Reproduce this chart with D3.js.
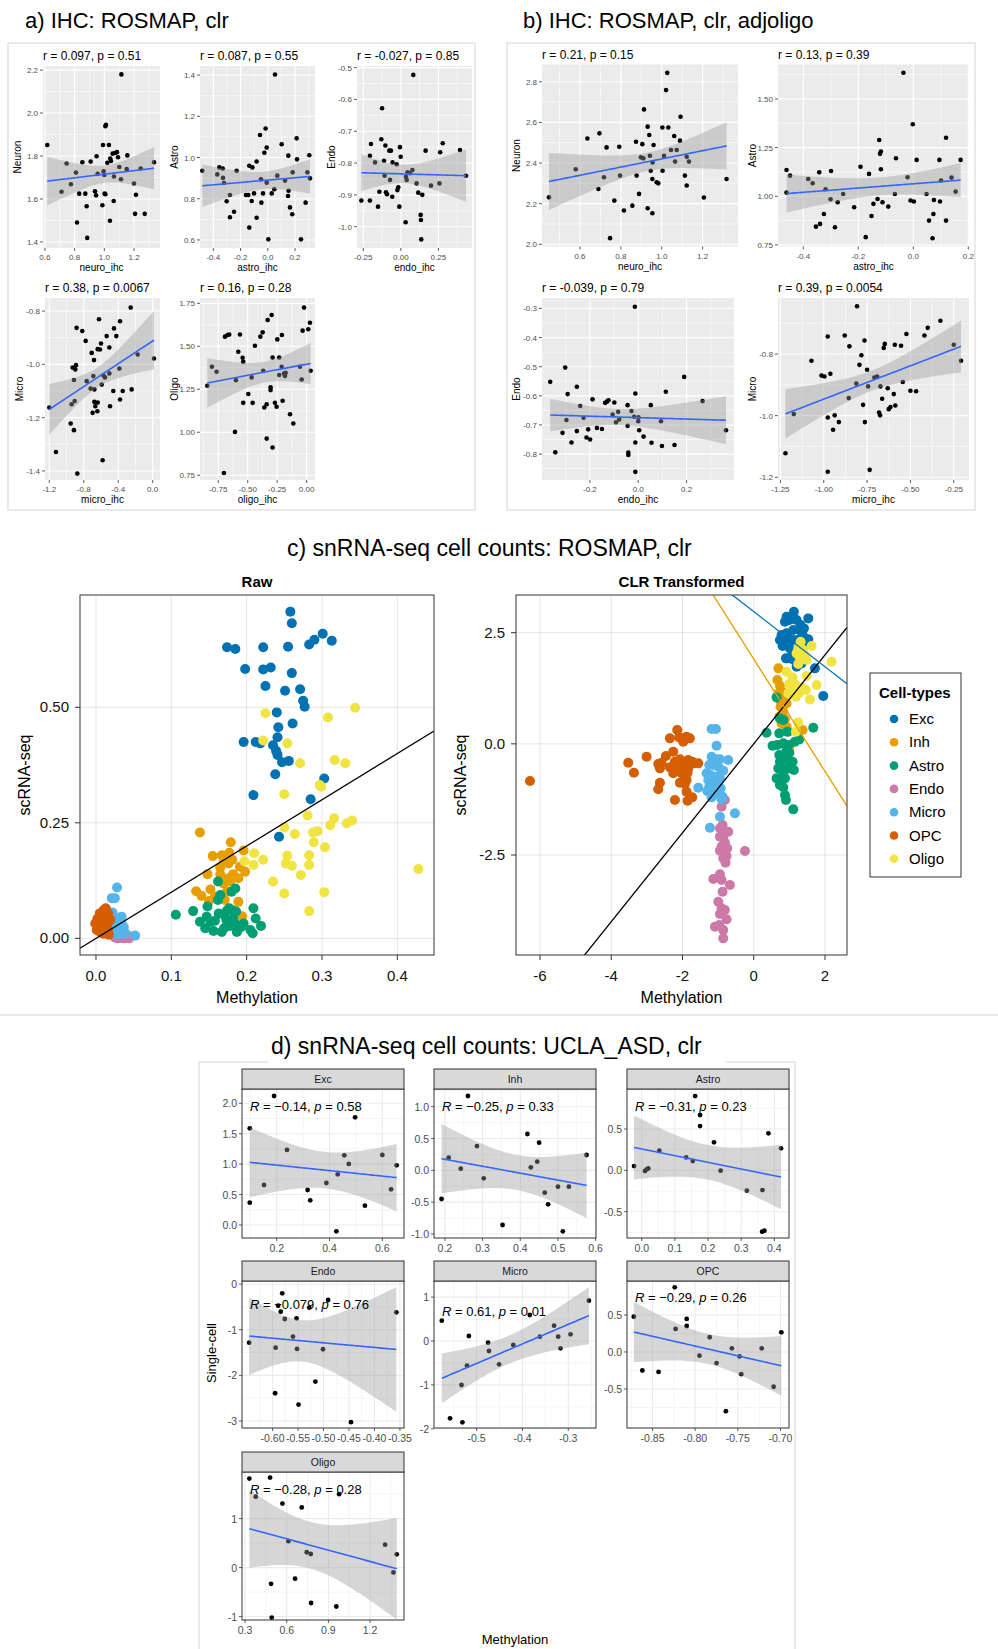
<!DOCTYPE html>
<html>
<head>
<meta charset="utf-8">
<script src="https://cdn.jsdelivr.net/npm/d3@7"></script>
<style>
body { margin: 0; background: #fff; }
</style>
</head>
<body>
<div id="chart"></div>
<script>
// ---------------- data ----------------
// a) IHC ROSMAP clr  [ihc, methylation]
var aNeuron = [[0.616,1.851],[0.712,1.634],[0.746,1.765],[0.775,1.669],[0.809,1.723],[0.816,1.491],[0.831,1.625],[0.852,1.771],[0.872,1.625],[0.881,1.566],[0.885,1.419],[0.908,1.774],[0.937,1.636],[0.944,1.617],[0.948,1.799],[0.955,1.717],[0.987,1.571],[0.991,1.851],[0.995,1.729],[1.000,1.712],[1.002,1.625],[1.007,1.622],[1.007,1.939],[1.011,1.945],[1.020,1.769],[1.031,1.851],[1.038,1.499],[1.040,1.788],[1.045,1.777],[1.056,1.811],[1.063,1.591],[1.065,1.705],[1.072,1.814],[1.085,1.818],[1.092,1.794],[1.101,1.749],[1.115,2.180],[1.112,1.692],[1.151,1.739],[1.155,1.803],[1.200,1.672],[1.213,1.620],[1.207,1.531],[1.245,1.742],[1.272,1.531],[1.335,1.771]];
var aAstro = [[-0.481,0.936],[-0.371,0.918],[-0.356,0.952],[-0.331,0.947],[-0.329,0.901],[-0.322,0.876],[-0.302,0.788],[-0.278,0.818],[-0.278,0.710],[-0.248,0.737],[-0.229,0.936],[-0.160,0.818],[-0.143,0.818],[-0.136,0.660],[-0.136,0.960],[-0.113,0.952],[-0.118,0.789],[-0.101,0.826],[-0.082,0.708],[-0.082,0.981],[-0.057,1.109],[-0.050,0.894],[-0.047,0.781],[-0.035,0.826],[-0.025,1.023],[-0.016,1.141],[-0.008,1.048],[0.004,0.603],[-0.008,0.878],[0.029,0.826],[0.048,0.846],[0.053,1.403],[0.070,0.912],[0.102,1.064],[0.127,0.888],[0.149,0.813],[0.153,0.839],[0.151,1.009],[0.163,0.758],[0.180,0.725],[0.183,0.928],[0.212,1.093],[0.215,0.991],[0.244,0.603],[0.278,0.781],[0.291,0.928],[0.305,1.011],[0.310,0.899]];
var aEndo = [[-0.263,-0.918],[-0.206,-0.918],[-0.206,-0.777],[-0.199,-0.740],[-0.172,-0.798],[-0.152,-0.937],[-0.143,-0.890],[-0.130,-0.725],[-0.125,-0.628],[-0.112,-0.793],[-0.108,-0.840],[-0.103,-0.745],[-0.099,-0.892],[-0.092,-0.898],[-0.077,-0.761],[-0.072,-0.853],[-0.066,-0.761],[-0.057,-0.906],[-0.055,-0.798],[-0.028,-0.804],[-0.023,-0.885],[-0.017,-0.876],[-0.010,-0.937],[-0.006,-0.750],[-0.001,-0.780],[0.032,-0.986],[0.034,-0.843],[0.039,-0.853],[0.045,-0.829],[0.061,-0.832],[0.077,-0.822],[0.083,-0.523],[0.105,-0.864],[0.116,-0.893],[0.132,-0.963],[0.134,-0.979],[0.136,-1.040],[0.143,-0.900],[0.165,-0.761],[0.201,-0.871],[0.257,-0.864],[0.262,-0.766],[0.279,-0.738],[0.394,-0.759],[0.434,-0.840]];
var aMicro = [[-1.200,-1.162],[-1.123,-1.329],[-0.952,-1.222],[-0.941,-1.150],[-0.929,-1.012],[-0.914,-1.247],[-0.914,-1.059],[-0.906,-1.138],[-0.898,-1.019],[-0.890,-1.003],[-0.883,-0.863],[-0.875,-1.410],[-0.817,-0.875],[-0.778,-0.912],[-0.766,-1.063],[-0.720,-1.091],[-0.708,-0.957],[-0.697,-1.182],[-0.689,-1.044],[-0.681,-0.984],[-0.677,-1.094],[-0.677,-1.141],[-0.666,-1.157],[-0.642,-1.176],[-0.638,-1.143],[-0.638,-0.943],[-0.623,-0.831],[-0.612,-0.944],[-0.600,-0.922],[-0.592,-1.076],[-0.581,-1.360],[-0.573,-1.041],[-0.554,-1.049],[-0.534,-0.894],[-0.503,-0.937],[-0.503,-1.034],[-0.495,-1.157],[-0.457,-1.100],[-0.449,-0.865],[-0.422,-0.894],[-0.387,-1.016],[-0.379,-0.838],[-0.379,-1.132],[-0.348,-1.100],[-0.255,-0.787],[-0.244,-1.094],[-0.174,-0.963],[0.015,-0.978]];
var aOligo = [[-0.843,1.270],[-0.804,1.381],[-0.764,1.352],[-0.693,1.556],[-0.671,1.566],[-0.657,1.569],[-0.702,0.763],[-0.608,1.002],[-0.600,1.303],[-0.580,1.468],[-0.566,1.569],[-0.543,1.433],[-0.538,1.410],[-0.538,1.171],[-0.495,1.222],[-0.467,1.319],[-0.458,1.171],[-0.439,1.503],[-0.393,1.556],[-0.373,1.581],[-0.368,1.358],[-0.359,1.144],[-0.339,0.963],[-0.339,1.163],[-0.331,1.653],[-0.306,1.261],[-0.306,1.245],[-0.297,1.682],[-0.289,0.911],[-0.289,1.435],[-0.269,1.171],[-0.255,1.148],[-0.249,1.540],[-0.233,1.435],[-0.233,1.333],[-0.212,1.381],[-0.210,1.566],[-0.204,1.183],[-0.192,1.342],[-0.184,1.327],[-0.178,1.346],[-0.141,1.105],[-0.113,1.051],[-0.056,1.381],[-0.042,1.307],[-0.034,1.591],[-0.022,1.725],[0.014,1.599],[0.028,1.637],[0.034,1.358]];

// b) IHC ROSMAP clr adjoligo
var bNeuron = [[0.448,2.231],[0.579,2.369],[0.636,2.521],[0.690,2.272],[0.695,2.546],[0.717,2.330],[0.730,2.477],[0.747,2.030],[0.768,2.215],[0.792,2.480],[0.796,2.338],[0.815,2.166],[0.856,2.190],[0.874,2.505],[0.877,2.338],[0.889,2.248],[0.898,2.428],[0.905,2.493],[0.910,2.423],[0.913,2.664],[0.931,2.579],[0.931,2.177],[0.939,2.538],[0.942,2.436],[0.946,2.362],[0.954,2.321],[0.954,2.153],[0.955,2.403],[0.960,2.489],[0.975,2.305],[0.983,2.300],[1.003,2.575],[1.004,2.362],[1.011,2.435],[1.021,2.759],[1.027,2.844],[1.032,2.575],[1.045,2.464],[1.061,2.533],[1.065,2.407],[1.073,2.464],[1.089,2.510],[1.092,2.628],[1.113,2.338],[1.122,2.289],[1.122,2.431],[1.133,2.407],[1.206,2.230],[1.317,2.321]];
var bAstro = [[-0.461,1.135],[-0.461,1.019],[-0.448,1.106],[-0.382,1.089],[-0.366,1.067],[-0.354,0.844],[-0.342,1.123],[-0.339,0.858],[-0.325,0.909],[-0.319,1.036],[-0.301,0.985],[-0.299,1.130],[-0.285,0.841],[-0.275,0.969],[-0.255,1.012],[-0.215,0.944],[-0.192,1.152],[-0.173,0.790],[-0.161,1.115],[-0.152,0.899],[-0.145,0.961],[-0.130,0.986],[-0.124,1.289],[-0.121,1.218],[-0.118,1.230],[-0.118,1.139],[-0.112,0.969],[-0.091,0.947],[-0.067,1.012],[-0.063,1.195],[-0.036,1.635],[-0.021,1.098],[-0.010,0.978],[-0.002,1.370],[0.002,0.973],[0.012,1.187],[0.048,1.012],[0.057,0.875],[0.073,0.909],[0.075,0.981],[0.070,0.784],[0.095,1.187],[0.097,0.973],[0.101,1.081],[0.119,1.301],[0.119,0.875],[0.139,1.096],[0.154,1.024],[0.172,1.187]];
var bEndo = [[-0.364,-0.552],[-0.343,-0.794],[-0.302,-0.503],[-0.297,-0.683],[-0.292,-0.594],[-0.313,-0.727],[-0.276,-0.760],[-0.254,-0.569],[-0.254,-0.721],[-0.240,-0.635],[-0.226,-0.675],[-0.214,-0.743],[-0.207,-0.715],[-0.199,-0.750],[-0.189,-0.612],[-0.171,-0.710],[-0.150,-0.714],[-0.137,-0.624],[-0.130,-0.620],[-0.123,-0.615],[-0.106,-0.664],[-0.099,-0.623],[-0.092,-0.691],[-0.083,-0.655],[-0.079,-0.681],[-0.044,-0.632],[-0.044,-0.703],[-0.041,-0.795],[-0.041,-0.803],[-0.028,-0.652],[-0.017,-0.672],[-0.012,-0.592],[-0.012,-0.760],[-0.012,-0.861],[-0.014,-0.294],[0.000,-0.687],[0.001,-0.674],[0.004,-0.718],[0.022,-0.740],[0.052,-0.632],[0.055,-0.761],[0.094,-0.687],[0.098,-0.772],[0.114,-0.586],[0.150,-0.769],[0.190,-0.535],[0.266,-0.618],[0.363,-0.718]];
var bMicro = [[-1.221,-1.122],[-1.173,-0.995],[-1.071,-0.822],[-1.013,-0.870],[-0.996,-0.873],[-0.977,-0.743],[-0.977,-1.006],[-0.977,-1.182],[-0.962,-0.864],[-0.946,-1.046],[-0.937,-0.999],[-0.913,-1.021],[-0.879,-0.740],[-0.856,-0.943],[-0.852,-0.775],[-0.812,-0.896],[-0.808,-0.645],[-0.794,-0.835],[-0.783,-0.804],[-0.773,-0.965],[-0.765,-0.756],[-0.763,-1.021],[-0.750,-0.851],[-0.744,-0.905],[-0.735,-1.176],[-0.708,-0.876],[-0.692,-0.873],[-0.681,-0.990],[-0.675,-0.999],[-0.673,-0.905],[-0.663,-0.945],[-0.654,-0.780],[-0.648,-0.767],[-0.631,-0.911],[-0.625,-0.979],[-0.615,-0.972],[-0.596,-0.930],[-0.590,-0.770],[-0.587,-0.967],[-0.554,-0.773],[-0.544,-0.891],[-0.523,-0.735],[-0.500,-0.919],[-0.467,-0.921],[-0.419,-0.740],[-0.400,-0.715],[-0.327,-0.692],[-0.250,-0.770],[-0.208,-0.822]];

// c) snRNA-seq ROSMAP  [methylation, scRNA-seq]
var cellTypes = ["Exc","Inh","Astro","Endo","Micro","OPC","Oligo"];
var cellColors = ["#0072B2","#E69F00","#009E73","#CC79A7","#56B4E9","#D55E00","#F0E442"];
var rawExc = [[0.258,0.707],[0.260,0.682],[0.301,0.659],[0.290,0.646],[0.283,0.636],[0.313,0.644],[0.174,0.630],[0.185,0.626],[0.222,0.630],[0.255,0.631],[0.198,0.583],[0.222,0.582],[0.232,0.586],[0.260,0.574],[0.225,0.546],[0.251,0.536],[0.271,0.539],[0.275,0.514],[0.277,0.501],[0.240,0.489],[0.261,0.465],[0.242,0.457],[0.241,0.435],[0.196,0.425],[0.212,0.425],[0.218,0.422],[0.235,0.418],[0.239,0.406],[0.241,0.397],[0.247,0.381],[0.256,0.384],[0.238,0.355],[0.303,0.346],[0.209,0.310],[0.285,0.301],[0.243,0.220]];
var rawInh = [[0.138,0.229],[0.179,0.208],[0.155,0.178],[0.167,0.180],[0.177,0.185],[0.196,0.190],[0.170,0.166],[0.176,0.162],[0.181,0.170],[0.191,0.155],[0.148,0.139],[0.165,0.139],[0.182,0.139],[0.198,0.144],[0.176,0.130],[0.189,0.130],[0.169,0.119],[0.178,0.123],[0.152,0.106],[0.133,0.102],[0.140,0.092],[0.158,0.090],[0.174,0.102],[0.150,0.081],[0.171,0.083],[0.189,0.079],[0.194,0.048],[0.165,0.154]];
var rawAstro = [[0.106,0.051],[0.129,0.059],[0.138,0.036],[0.145,0.022],[0.148,0.069],[0.152,0.036],[0.158,0.038],[0.162,0.123],[0.165,0.094],[0.162,0.083],[0.156,0.016],[0.163,0.054],[0.167,0.014],[0.170,0.051],[0.173,0.040],[0.174,0.061],[0.177,0.065],[0.178,0.027],[0.180,0.101],[0.181,0.061],[0.182,0.043],[0.185,0.108],[0.185,0.032],[0.186,0.058],[0.187,0.014],[0.190,0.022],[0.193,0.025],[0.196,0.032],[0.205,0.018],[0.208,0.011],[0.209,0.065],[0.212,0.043],[0.219,0.027],[0.147,0.047],[0.176,0.036],[0.170,0.022]];
var rawEndo = [[0.025,0.002],[0.029,0.000],[0.032,0.004],[0.035,0.001],[0.037,0.000],[0.040,0.003],[0.043,0.002],[0.046,0.004],[0.038,0.008],[0.033,0.006],[0.028,0.005],[0.041,0.007],[0.044,0.000],[0.030,0.001],[0.036,0.003],[0.027,0.008]];
var rawMicro = [[0.028,0.110],[0.021,0.087],[0.025,0.087],[0.052,0.006],[0.022,0.056],[0.025,0.040],[0.030,0.043],[0.034,0.032],[0.037,0.024],[0.028,0.022],[0.023,0.018],[0.032,0.014],[0.039,0.011],[0.027,0.009],[0.019,0.029],[0.034,0.047],[0.030,0.030],[0.026,0.025],[0.036,0.018],[0.031,0.008],[0.021,0.012],[0.033,0.021],[0.029,0.036]];
var rawOPC = [[-0.001,0.032],[0.002,0.043],[0.005,0.054],[0.010,0.061],[0.013,0.065],[0.008,0.025],[0.012,0.014],[0.016,0.018],[0.004,0.022],[0.015,0.029],[0.019,0.040],[0.009,0.036],[0.001,0.018],[0.014,0.047],[0.011,0.054],[0.005,0.040],[0.012,0.032],[0.016,0.054],[0.008,0.048],[0.003,0.028],[0.017,0.008],[0.010,0.010],[0.006,0.013]];
var rawOligo = [[0.344,0.499],[0.225,0.487],[0.308,0.478],[0.222,0.428],[0.254,0.422],[0.271,0.379],[0.317,0.386],[0.331,0.379],[0.297,0.332],[0.299,0.328],[0.250,0.312],[0.281,0.266],[0.316,0.260],[0.311,0.245],[0.333,0.249],[0.340,0.255],[0.250,0.240],[0.264,0.226],[0.288,0.229],[0.294,0.232],[0.289,0.208],[0.304,0.197],[0.210,0.184],[0.254,0.179],[0.283,0.180],[0.197,0.167],[0.222,0.170],[0.252,0.162],[0.260,0.157],[0.209,0.159],[0.283,0.159],[0.272,0.137],[0.235,0.123],[0.250,0.097],[0.303,0.100],[0.283,0.059],[0.428,0.150]];

var clrExc = [[1.127,2.972],[0.922,2.860],[0.876,2.747],[1.000,2.785],[1.203,2.785],[1.531,2.822],[1.316,2.672],[1.409,2.597],[1.109,2.560],[0.782,2.448],[0.735,2.335],[0.829,2.298],[0.969,2.373],[1.091,2.335],[1.222,2.335],[1.372,2.448],[1.531,2.350],[1.437,2.260],[0.810,2.200],[1.016,2.148],[1.109,2.073],[0.969,1.923],[1.127,1.885],[1.203,1.735],[1.344,1.810],[1.718,1.698],[1.952,1.076],[0.922,2.485],[1.278,2.560],[0.904,1.923]];
var clrInh = [[0.692,1.698],[0.664,1.435],[0.737,1.300],[0.782,1.173],[0.737,0.985],[0.829,1.045],[0.922,0.910],[0.754,0.835],[0.829,0.723],[0.717,0.610],[0.876,0.551],[0.782,0.461],[0.922,0.386],[0.969,0.273],[1.372,0.311],[1.000,-0.064],[0.876,1.135],[0.692,1.135]];
var clrAstro = [[0.641,1.045],[0.361,0.251],[0.529,-0.041],[0.735,0.573],[0.829,0.536],[0.717,0.236],[0.941,0.273],[1.156,0.049],[1.278,0.101],[1.671,0.363],[0.660,-0.026],[0.829,0.011],[0.969,-0.026],[0.717,-0.251],[0.829,-0.326],[0.735,-0.401],[0.922,-0.364],[1.091,-0.401],[1.127,-0.588],[0.689,-0.551],[0.829,-0.573],[0.969,-0.551],[0.829,-0.663],[0.641,-0.776],[0.754,-0.813],[0.876,-0.776],[0.735,-0.926],[0.829,-0.978],[0.876,-1.151],[0.904,-1.263],[1.109,-1.473],[1.000,-0.198],[0.922,-0.138]];
var clrEndo = [[-0.810,-1.263],[-0.903,-1.413],[-0.875,-1.825],[-0.949,-1.900],[-0.716,-1.975],[-0.856,-2.087],[-0.810,-2.222],[-0.903,-2.312],[-0.810,-2.387],[-0.949,-2.402],[-0.763,-2.522],[-0.856,-2.575],[-0.791,-2.672],[-0.247,-2.410],[-0.949,-2.935],[-1.136,-3.040],[-0.903,-3.062],[-0.669,-3.175],[-0.875,-3.325],[-0.996,-3.550],[-0.903,-3.700],[-0.810,-3.737],[-0.949,-3.827],[-0.763,-3.947],[-1.090,-4.112],[-0.968,-4.075],[-0.856,-4.187],[-0.856,-4.375],[-0.744,-2.350],[-0.949,-2.087]];
var clrMicro = [[-1.183,0.333],[-1.062,0.333],[-1.043,-0.041],[-1.183,-0.289],[-1.043,-0.348],[-0.949,-0.348],[-0.716,-0.364],[-1.249,-0.476],[-1.137,-0.476],[-0.996,-0.514],[-0.903,-0.603],[-0.856,-0.603],[-1.324,-0.663],[-1.212,-0.701],[-1.090,-0.738],[-0.949,-0.776],[-1.277,-0.813],[-1.155,-0.851],[-1.024,-0.873],[-1.249,-0.963],[-1.137,-0.963],[-0.930,-1.001],[-1.558,-0.986],[-1.305,-1.061],[-1.043,-1.113],[-0.874,-1.188],[-1.183,-1.203],[-0.528,-1.563],[-0.949,-1.638],[-1.230,-1.885],[-0.903,-1.248]];
var clrOPC = [[-6.282,-0.836],[-3.523,-0.424],[-3.364,-0.649],[-3.008,-0.289],[-2.681,-0.454],[-2.466,-0.274],[-2.354,0.124],[-2.260,-0.176],[-2.213,-0.401],[-2.148,0.311],[-2.092,0.146],[-2.073,-0.349],[-2.073,-0.551],[-1.980,0.049],[-1.886,0.161],[-1.793,0.124],[-1.886,-0.439],[-1.727,-0.401],[-1.558,-0.439],[-1.671,-0.439],[-1.840,-0.551],[-2.634,-0.551],[-2.587,-0.424],[-2.354,-0.529],[-2.260,-0.663],[-2.026,-0.663],[-1.858,-0.649],[-1.886,-0.813],[-2.073,-0.873],[-1.933,-0.903],[-2.634,-0.873],[-2.681,-1.023],[-1.886,-1.076],[-2.213,-1.263],[-1.858,-1.278],[-1.727,-1.203],[-1.840,-0.364],[-2.120,-0.439]];
var clrOligo = [[1.316,2.298],[1.250,2.148],[1.391,2.110],[1.203,2.035],[1.437,1.998],[1.297,1.923],[1.484,1.885],[1.625,2.200],[2.186,1.848],[1.250,1.795],[0.922,1.623],[1.091,1.495],[1.484,1.525],[1.000,1.345],[1.184,1.323],[1.344,1.270],[1.109,1.210],[0.969,1.135],[1.278,1.150],[1.466,1.210],[1.765,1.323],[1.578,1.000],[1.184,1.060],[1.250,0.483],[1.184,0.273],[1.091,1.098]];
// fitted lines in the CLR panel: [intercept, slope]
var clrIdentity = [0, 1];
var clrExcLine = [2.975, -0.62];
var clrInhLine = [1.908, -1.263];

// d) snRNA-seq UCLA_ASD  [methylation, single-cell]
var dExc = [[0.098,1.589],[0.098,0.367],[0.152,0.657],[0.190,2.120],[0.239,1.233],[0.317,0.575],[0.327,0.405],[0.388,0.690],[0.431,0.833],[0.426,-0.104],[0.456,1.145],[0.473,1.003],[0.497,1.770],[0.534,0.318],[0.600,1.151],[0.633,0.586],[0.654,0.981]];
var dInh = [[0.191,-0.450],[0.210,0.199],[0.242,0.026],[0.261,1.168],[0.285,0.382],[0.303,-0.126],[0.353,-0.859],[0.419,0.571],[0.428,0.047],[0.445,0.136],[0.450,0.435],[0.465,-0.351],[0.474,-0.534],[0.500,-0.257],[0.513,-0.958],[0.529,-0.257],[0.576,0.241]];
var dAstro = [[-0.023,0.052],[0.010,-0.008],[0.015,0.012],[0.020,0.024],[0.053,0.238],[0.134,0.157],[0.154,0.113],[0.161,0.899],[0.176,0.669],[0.176,0.536],[0.218,0.339],[0.238,-0.004],[0.317,-0.246],[0.364,-0.238],[0.363,-0.742],[0.370,-0.730],[0.382,0.448],[0.420,0.266]];
var dEndo = [[-0.581,-0.204],[-0.589,-0.474],[-0.584,-0.605],[-0.576,-0.766],[-0.553,-0.752],[-0.528,-0.518],[-0.491,-0.350],[-0.357,-0.619],[-0.560,-1.152],[-0.646,-1.284],[-0.594,-1.393],[-0.552,-1.422],[-0.501,-1.429],[-0.516,-2.137],[-0.595,-2.392],[-0.549,-2.641],[-0.446,-3.026]];
var dMicro = [[-0.576,0.462],[-0.517,0.114],[-0.475,-0.038],[-0.384,0.592],[-0.331,0.349],[-0.255,0.918],[-0.362,0.099],[-0.322,0.099],[-0.295,0.152],[-0.317,-0.167],[-0.420,-0.091],[-0.473,-0.228],[-0.451,-0.531],[-0.521,-0.562],[-0.533,-1.002],[-0.558,-1.761],[-0.531,-1.852]];
var dOPC = [[-0.872,0.477],[-0.823,0.311],[-0.824,0.874],[-0.810,0.446],[-0.810,0.351],[-0.783,0.199],[-0.757,0.050],[-0.699,0.266],[-0.862,-0.250],[-0.843,-0.270],[-0.795,-0.050],[-0.775,-0.150],[-0.764,-0.800],[-0.746,-0.300],[-0.722,0.050],[-0.708,-0.470],[-0.748,-0.060]];
var dOligo = [[0.331,1.817],[0.480,1.838],[0.377,1.447],[0.569,1.306],[0.708,1.228],[0.977,1.498],[0.612,0.540],[0.744,0.313],[0.773,0.277],[0.487,-0.332],[0.660,-0.226],[0.775,-0.723],[0.957,-0.794],[0.492,-1.021],[1.308,0.468],[1.392,0.270],[1.368,-0.098]];
var dR = ["\u22120.14","\u22120.25","\u22120.31","\u22120.079","0.61","\u22120.29","\u22120.28"];
var dP = ["0.58","0.33","0.23","0.76","0.01","0.26","0.28"];

// ---------------- drawing ----------------
var W = 998, H = 1649;
var svg = d3.select("#chart").append("svg")
    .attr("width", W).attr("height", H)
    .style("font-family", "'Liberation Sans', Arial, Helvetica, sans-serif");
svg.append("rect").attr("width", W).attr("height", H).attr("fill", "#fff");

var loc = d3.formatLocale({decimal: ".", thousands: ",", grouping: [3], currency: ["", ""], minus: "-"});
var clipCount = 0;

function clipRect(x0, y0, x1, y1) {
    var id = "clip" + (clipCount++);
    svg.append("clipPath").attr("id", id).append("rect")
        .attr("x", x0).attr("y", y0).attr("width", x1 - x0).attr("height", y1 - y0);
    return "url(#" + id + ")";
}

// 97.5% t quantile (Cornish-Fisher expansion)
function qt975(df) {
    var z = 1.959964;
    var g1 = (Math.pow(z, 3) + z) / 4;
    var g2 = (5 * Math.pow(z, 5) + 16 * Math.pow(z, 3) + 3 * z) / 96;
    var g3 = (3 * Math.pow(z, 7) + 19 * Math.pow(z, 5) + 17 * Math.pow(z, 3) - 15 * z) / 384;
    return z + g1 / df + g2 / (df * df) + g3 / (df * df * df);
}

// linear model with 95% confidence band, like geom_smooth(method = "lm")
function lmFit(pts) {
    var n = pts.length;
    var mx = d3.mean(pts, function(d) { return d[0]; });
    var my = d3.mean(pts, function(d) { return d[1]; });
    var sxx = d3.sum(pts, function(d) { return (d[0] - mx) * (d[0] - mx); });
    var sxy = d3.sum(pts, function(d) { return (d[0] - mx) * (d[1] - my); });
    var b = sxy / sxx, a = my - b * mx;
    var s = Math.sqrt(d3.sum(pts, function(d) { var e = d[1] - a - b * d[0]; return e * e; }) / (n - 2));
    var t = qt975(n - 2);
    var ext = d3.extent(pts, function(d) { return d[0]; });
    return d3.range(80).map(function(i) {
        var x = ext[0] + (ext[1] - ext[0]) * i / 79;
        var se = s * Math.sqrt(1 / n + (x - mx) * (x - mx) / sxx);
        var y = a + b * x;
        return {x: x, y: y, lo: y - t * se, hi: y + t * se};
    });
}

function minorBreaks(ticks, dom) {
    var step = ticks[1] - ticks[0];
    var lo = Math.min(dom[0], dom[1]), hi = Math.max(dom[0], dom[1]);
    var out = [ticks[0] - step / 2];
    ticks.forEach(function(t) { out.push(t + step / 2); });
    return out.filter(function(v) { return v > lo && v < hi; });
}

function drawSmooth(g, pts, x, y, clip) {
    var fit = lmFit(pts);
    g.append("path").datum(fit)
        .attr("clip-path", clip)
        .attr("fill", "#999999").attr("fill-opacity", 0.4)
        .attr("d", d3.area().x(function(d) { return x(d.x); })
            .y0(function(d) { return y(d.lo); }).y1(function(d) { return y(d.hi); }));
    g.append("path").datum(fit)
        .attr("clip-path", clip)
        .attr("fill", "none").attr("stroke", "#3366FF").attr("stroke-width", 1.6)
        .attr("d", d3.line().x(function(d) { return x(d.x); }).y(function(d) { return y(d.y); }));
}

// ggplot theme_gray scatter panel (sections a and b)
function grayPanel(c) {
    var x0 = c.box[0], x1 = c.box[1], y0 = c.box[2], y1 = c.box[3];
    var x = d3.scaleLinear().domain(c.xDom).range([x0, x1]);
    var y = d3.scaleLinear().domain(c.yDom).range([y1, y0]);
    var g = svg.append("g");
    var clip = clipRect(x0, y0, x1, y1);
    g.append("rect").attr("x", x0).attr("y", y0).attr("width", x1 - x0).attr("height", y1 - y0).attr("fill", "#EBEBEB");

    g.selectAll(".mnx").data(minorBreaks(c.xTicks, c.xDom)).join("line")
        .attr("x1", x).attr("x2", x).attr("y1", y0).attr("y2", y1)
        .attr("stroke", "#fff").attr("stroke-width", 0.55);
    g.selectAll(".mny").data(minorBreaks(c.yTicks, c.yDom)).join("line")
        .attr("y1", y).attr("y2", y).attr("x1", x0).attr("x2", x1)
        .attr("stroke", "#fff").attr("stroke-width", 0.55);
    g.append("g").selectAll("line").data(c.xTicks).join("line")
        .attr("x1", x).attr("x2", x).attr("y1", y0).attr("y2", y1)
        .attr("stroke", "#fff").attr("stroke-width", 1.1);
    g.append("g").selectAll("line").data(c.yTicks).join("line")
        .attr("y1", y).attr("y2", y).attr("x1", x0).attr("x2", x1)
        .attr("stroke", "#fff").attr("stroke-width", 1.1);

    g.append("g").selectAll("circle").data(c.pts).join("circle")
        .attr("cx", function(d) { return x(d[0]); })
        .attr("cy", function(d) { return y(d[1]); })
        .attr("r", 2.3).attr("fill", "#000");
    drawSmooth(g, c.pts, x, y, clip);

    // axes
    var fx = loc.format(c.xFmt), fy = loc.format(c.yFmt);
    g.append("g").selectAll("line").data(c.xTicks).join("line")
        .attr("x1", x).attr("x2", x).attr("y1", y1).attr("y2", y1 + 3)
        .attr("stroke", "#333").attr("stroke-width", 0.8);
    g.append("g").selectAll("line").data(c.yTicks).join("line")
        .attr("y1", y).attr("y2", y).attr("x1", x0 - 3).attr("x2", x0)
        .attr("stroke", "#333").attr("stroke-width", 0.8);
    g.append("g").selectAll("text").data(c.xTicks).join("text")
        .attr("x", x).attr("y", y1 + 12).attr("text-anchor", "middle")
        .attr("font-size", 8).attr("fill", "#4D4D4D").text(fx);
    g.append("g").selectAll("text").data(c.yTicks).join("text")
        .attr("x", x0 - 5).attr("y", function(d) { return y(d) + 3; }).attr("text-anchor", "end")
        .attr("font-size", 8).attr("fill", "#4D4D4D").text(fy);

    g.append("text").attr("x", x0).attr("y", y0 - 6)
        .attr("font-size", 12).attr("fill", "#000").text(c.title);
    g.append("text").attr("x", (x0 + x1) / 2).attr("y", y1 + 23).attr("text-anchor", "middle")
        .attr("font-size", 10).attr("fill", "#000").text(c.xlab);
    g.append("text").attr("transform", "translate(" + (x0 - 22) + "," + ((y0 + y1) / 2) + ") rotate(-90)")
        .attr("text-anchor", "middle").attr("font-size", 10).attr("fill", "#000").text(c.ylab);
}

// section frames and titles
svg.append("rect").attr("x", 8).attr("y", 43).attr("width", 467).attr("height", 467)
    .attr("fill", "none").attr("stroke", "#D4D4D4").attr("stroke-width", 1);
svg.append("rect").attr("x", 507).attr("y", 43).attr("width", 468).attr("height", 467)
    .attr("fill", "none").attr("stroke", "#D4D4D4").attr("stroke-width", 1);
svg.append("text").attr("x", 25).attr("y", 28).attr("font-size", 22).text("a) IHC: ROSMAP, clr");
svg.append("text").attr("x", 523).attr("y", 28).attr("font-size", 22).text("b) IHC: ROSMAP, clr, adjoligo");

var sectionA = [
    {pts: aNeuron, box: [43, 160, 66, 248], xDom: [0.587, 1.375], yDom: [1.372, 2.219],
     xTicks: [0.6, 0.8, 1.0, 1.2], yTicks: [1.4, 1.6, 1.8, 2.0, 2.2], xFmt: ".1f", yFmt: ".1f",
     title: "r = 0.097, p = 0.51", xlab: "neuro_ihc", ylab: "Neuron"},
    {pts: aAstro, box: [200, 315, 66, 248], xDom: [-0.498, 0.347], yDom: [0.561, 1.444],
     xTicks: [-0.4, -0.2, 0, 0.2], yTicks: [0.6, 0.8, 1.0, 1.2, 1.4], xFmt: ".1f", yFmt: ".1f",
     title: "r = 0.087, p = 0.55", xlab: "astro_ihc", ylab: "Astro"},
    {pts: aEndo, box: [357, 472, 66, 248], xDom: [-0.292, 0.474], yDom: [-1.067, -0.495],
     xTicks: [-0.25, 0, 0.25], yTicks: [-1.0, -0.9, -0.8, -0.7, -0.6, -0.5], xFmt: ".2f", yFmt: ".1f",
     title: "r = -0.027, p = 0.85", xlab: "endo_ihc", ylab: "Endo"},
    {pts: aMicro, box: [45, 160, 298, 480], xDom: [-1.25, 0.085], yDom: [-1.434, -0.751],
     xTicks: [-1.2, -0.8, -0.4, 0], yTicks: [-1.4, -1.2, -1.0, -0.8], xFmt: ".1f", yFmt: ".1f",
     title: "r = 0.38, p = 0.0067", xlab: "micro_ihc", ylab: "Micro"},
    {pts: aOligo, box: [200, 315, 298, 480], xDom: [-0.905, 0.071], yDom: [0.722, 1.781],
     xTicks: [-0.75, -0.5, -0.25, 0], yTicks: [0.75, 1.0, 1.25, 1.5, 1.75], xFmt: ".2f", yFmt: ".2f",
     title: "r = 0.16, p = 0.28", xlab: "oligo_ihc", ylab: "Oligo"}
];
var sectionB = [
    {pts: bNeuron, box: [542, 738, 64.5, 246.5], xDom: [0.414, 1.373], yDom: [1.989, 2.885],
     xTicks: [0.6, 0.8, 1.0, 1.2], yTicks: [2.0, 2.2, 2.4, 2.6, 2.8], xFmt: ".1f", yFmt: ".1f",
     title: "r = 0.21, p = 0.15", xlab: "neuro_ihc", ylab: "Neuron"},
    {pts: bAstro, box: [778, 969, 64.5, 246.5], xDom: [-0.492, 0.2025], yDom: [0.742, 1.677],
     xTicks: [-0.4, -0.2, 0, 0.2], yTicks: [0.75, 1.0, 1.25, 1.5], xFmt: ".1f", yFmt: ".2f",
     title: "r = 0.13, p = 0.39", xlab: "astro_ihc", ylab: "Astro"},
    {pts: bEndo, box: [542, 734, 298, 480], xDom: [-0.398, 0.396], yDom: [-0.889, -0.264],
     xTicks: [-0.2, 0, 0.2], yTicks: [-0.8, -0.7, -0.6, -0.5, -0.4, -0.3], xFmt: ".1f", yFmt: ".1f",
     title: "r = -0.039, p = 0.79", xlab: "endo_ihc", ylab: "Endo"},
    {pts: bMicro, box: [778, 969, 298, 480], xDom: [-1.264, -0.162], yDom: [-1.209, -0.618],
     xTicks: [-1.25, -1.0, -0.75, -0.5, -0.25], yTicks: [-1.2, -1.0, -0.8], xFmt: ".2f", yFmt: ".1f",
     title: "r = 0.39, p = 0.0054", xlab: "micro_ihc", ylab: "Micro"}
];
sectionA.forEach(grayPanel);
sectionB.forEach(grayPanel);

// ---- section c (Makie-style panels) ----
svg.append("text").attr("x", 287).attr("y", 556).attr("font-size", 23)
    .text("c) snRNA-seq cell counts: ROSMAP, clr");

var rawSeries = [rawExc, rawInh, rawAstro, rawEndo, rawMicro, rawOPC, rawOligo];
var clrSeries = [clrExc, clrInh, clrAstro, clrEndo, clrMicro, clrOPC, clrOligo];

function makiePanel(c) {
    var x0 = c.box[0], x1 = c.box[1], y0 = c.box[2], y1 = c.box[3];
    var x = d3.scaleLinear().domain(c.xDom).range([x0, x1]);
    var y = d3.scaleLinear().domain(c.yDom).range([y1, y0]);
    var g = svg.append("g");
    var clip = clipRect(x0, y0, x1, y1);
    g.append("g").selectAll("line").data(c.xTicks).join("line")
        .attr("x1", x).attr("x2", x).attr("y1", y0).attr("y2", y1)
        .attr("stroke", "#000").attr("stroke-opacity", 0.1).attr("stroke-width", 1);
    g.append("g").selectAll("line").data(c.yTicks).join("line")
        .attr("y1", y).attr("y2", y).attr("x1", x0).attr("x2", x1)
        .attr("stroke", "#000").attr("stroke-opacity", 0.1).attr("stroke-width", 1);

    var pg = g.append("g").attr("clip-path", clip);
    c.series.forEach(function(s, i) {
        pg.append("g").selectAll("circle").data(s).join("circle")
            .attr("cx", function(d) { return x(d[0]); })
            .attr("cy", function(d) { return y(d[1]); })
            .attr("r", 5).attr("fill", cellColors[i]);
    });
    c.lines.forEach(function(l) {
        pg.append("line")
            .attr("x1", x(c.xDom[0])).attr("y1", y(l.ab[0] + l.ab[1] * c.xDom[0]))
            .attr("x2", x(c.xDom[1])).attr("y2", y(l.ab[0] + l.ab[1] * c.xDom[1]))
            .attr("stroke", l.color).attr("stroke-width", 1.3);
    });

    g.append("rect").attr("x", x0).attr("y", y0).attr("width", x1 - x0).attr("height", y1 - y0)
        .attr("fill", "none").attr("stroke", "#333").attr("stroke-width", 1);
    var fx = loc.format(c.xFmt), fy = loc.format(c.yFmt);
    g.append("g").selectAll("line").data(c.xTicks).join("line")
        .attr("x1", x).attr("x2", x).attr("y1", y1).attr("y2", y1 + 5)
        .attr("stroke", "#333").attr("stroke-width", 1);
    g.append("g").selectAll("line").data(c.yTicks).join("line")
        .attr("y1", y).attr("y2", y).attr("x1", x0 - 5).attr("x2", x0)
        .attr("stroke", "#333").attr("stroke-width", 1);
    g.append("g").selectAll("text").data(c.xTicks).join("text")
        .attr("x", x).attr("y", y1 + 26).attr("text-anchor", "middle")
        .attr("font-size", 15).attr("fill", "#111").text(fx);
    g.append("g").selectAll("text").data(c.yTicks).join("text")
        .attr("x", x0 - 11).attr("y", function(d) { return y(d) + 5; }).attr("text-anchor", "end")
        .attr("font-size", 15).attr("fill", "#111").text(fy);
    g.append("text").attr("x", (x0 + x1) / 2).attr("y", y0 - 8).attr("text-anchor", "middle")
        .attr("font-size", 15).attr("font-weight", "bold").text(c.title);
    g.append("text").attr("x", (x0 + x1) / 2).attr("y", y1 + 48).attr("text-anchor", "middle")
        .attr("font-size", 16).text("Methylation");
    g.append("text").attr("transform", "translate(" + (c.ylabX) + "," + ((y0 + y1) / 2) + ") rotate(-90)")
        .attr("text-anchor", "middle").attr("font-size", 16).text("scRNA-seq");
}

makiePanel({title: "Raw", box: [80, 434, 595, 955], xDom: [-0.0212, 0.4487], yDom: [-0.036, 0.743],
    xTicks: [0, 0.1, 0.2, 0.3, 0.4], yTicks: [0, 0.25, 0.5], xFmt: ".1f", yFmt: ".2f",
    series: rawSeries, lines: [{ab: clrIdentity, color: "#000"}], ylabX: 30});
makiePanel({title: "CLR Transformed", box: [516, 847, 595, 955], xDom: [-6.674, 2.618], yDom: [-4.749, 3.348],
    xTicks: [-6, -4, -2, 0, 2], yTicks: [-2.5, 0, 2.5], xFmt: "d", yFmt: ".1f",
    series: clrSeries,
    lines: [{ab: clrIdentity, color: "#000"}, {ab: clrExcLine, color: cellColors[0]}, {ab: clrInhLine, color: cellColors[1]}],
    ylabX: 466});

// legend
var lg = svg.append("g");
lg.append("rect").attr("x", 870).attr("y", 673).attr("width", 91).attr("height", 204)
    .attr("fill", "#fff").attr("stroke", "#333").attr("stroke-width", 1);
lg.append("text").attr("x", 879).attr("y", 698).attr("font-size", 15).attr("font-weight", "bold").text("Cell-types");
lg.selectAll("circle").data(cellTypes).join("circle")
    .attr("cx", 894).attr("cy", function(d, i) { return 719 + i * 23.3; })
    .attr("r", 4.3).attr("fill", function(d, i) { return cellColors[i]; });
lg.selectAll("text.item").data(cellTypes).join("text").attr("class", "item")
    .attr("x", 909).attr("y", function(d, i) { return 724 + i * 23.3; })
    .attr("font-size", 15).text(function(d) { return d; });

// divider between c and d
svg.append("line").attr("x1", 0).attr("x2", W).attr("y1", 1015).attr("y2", 1015)
    .attr("stroke", "#D4D4D4").attr("stroke-width", 1);

// ---- section d (theme_bw facets) ----
svg.append("rect").attr("x", 199).attr("y", 1062).attr("width", 596).attr("height", 620)
    .attr("fill", "none").attr("stroke", "#D4D4D4").attr("stroke-width", 1);
svg.append("rect").attr("x", 268).attr("y", 1030).attr("width", 458).attr("height", 36).attr("fill", "#fff");
svg.append("text").attr("x", 271).attr("y", 1054).attr("font-size", 23)
    .text("d) snRNA-seq cell counts: UCLA_ASD, clr");

var facetCols = [[242, 404], [434, 596], [627, 789]];
var facetRows = [[1089, 1238], [1281, 1428], [1472, 1620]];
var sectionD = [
    {name: "Exc", pts: dExc, col: 0, row: 0, xDom: [0.0686, 0.682], yDom: [-0.214, 2.235],
     xTicks: [0.2, 0.4, 0.6], yTicks: [0, 0.5, 1, 1.5, 2], xFmt: ".1f", yFmt: ".1f", labelY: 1.956},
    {name: "Inh", pts: dInh, col: 1, row: 0, xDom: [0.171, 0.601], yDom: [-1.063, 1.278],
     xTicks: [0.2, 0.3, 0.4, 0.5, 0.6], yTicks: [-1, -0.5, 0, 0.5, 1], xFmt: ".1f", yFmt: ".1f", labelY: 1.01},
    {name: "Astro", pts: dAstro, col: 2, row: 0, xDom: [-0.0443, 0.444], yDom: [-0.818, 0.984],
     xTicks: [0, 0.1, 0.2, 0.3, 0.4], yTicks: [-0.5, 0, 0.5], xFmt: ".1f", yFmt: ".1f", labelY: 0.778},
    {name: "Endo", pts: dEndo, col: 0, row: 1, xDom: [-0.660, -0.342], yDom: [-3.153, 0.066],
     xTicks: [-0.6, -0.55, -0.5, -0.45, -0.4, -0.35], yTicks: [-3, -2, -1, 0], xFmt: ".2f", yFmt: "d", labelY: -0.438},
    {name: "Micro", pts: dMicro, col: 1, row: 1, xDom: [-0.593, -0.2395], yDom: [-1.982, 1.367],
     xTicks: [-0.5, -0.4, -0.3], yTicks: [-2, -1, 0, 1], xFmt: ".1f", yFmt: "d", labelY: 0.69},
    {name: "OPC", pts: dOPC, col: 2, row: 1, xDom: [-0.880, -0.690], yDom: [-1.027, 0.959],
     xTicks: [-0.85, -0.8, -0.75, -0.7], yTicks: [-0.5, 0, 0.5], xFmt: ".2f", yFmt: ".1f", labelY: 0.747},
    {name: "Oligo", pts: dOligo, col: 0, row: 2, xDom: [0.278, 1.444], yDom: [-1.07, 1.951],
     xTicks: [0.3, 0.6, 0.9, 1.2], yTicks: [-1, 0, 1], xFmt: ".1f", yFmt: "d", labelY: 1.61}
];

function bwFacet(c, i) {
    var x0 = facetCols[c.col][0], x1 = facetCols[c.col][1];
    var y0 = facetRows[c.row][0], y1 = facetRows[c.row][1];
    var x = d3.scaleLinear().domain(c.xDom).range([x0, x1]);
    var y = d3.scaleLinear().domain(c.yDom).range([y1, y0]);
    var g = svg.append("g");
    var clip = clipRect(x0, y0, x1, y1);
    g.append("rect").attr("x", x0).attr("y", y0).attr("width", x1 - x0).attr("height", y1 - y0).attr("fill", "#fff");
    g.selectAll(".mnx").data(minorBreaks(c.xTicks, c.xDom)).join("line")
        .attr("x1", x).attr("x2", x).attr("y1", y0).attr("y2", y1)
        .attr("stroke", "#EBEBEB").attr("stroke-width", 0.55);
    g.selectAll(".mny").data(minorBreaks(c.yTicks, c.yDom)).join("line")
        .attr("y1", y).attr("y2", y).attr("x1", x0).attr("x2", x1)
        .attr("stroke", "#EBEBEB").attr("stroke-width", 0.55);
    g.append("g").selectAll("line").data(c.xTicks).join("line")
        .attr("x1", x).attr("x2", x).attr("y1", y0).attr("y2", y1)
        .attr("stroke", "#EBEBEB").attr("stroke-width", 1.1);
    g.append("g").selectAll("line").data(c.yTicks).join("line")
        .attr("y1", y).attr("y2", y).attr("x1", x0).attr("x2", x1)
        .attr("stroke", "#EBEBEB").attr("stroke-width", 1.1);

    g.append("g").selectAll("circle").data(c.pts).join("circle")
        .attr("cx", function(d) { return x(d[0]); })
        .attr("cy", function(d) { return y(d[1]); })
        .attr("r", 2.4).attr("fill", "#000");
    drawSmooth(g, c.pts, x, y, clip);

    var lab = g.append("text").attr("x", x0 + 8).attr("y", y(c.labelY) + 5)
        .attr("font-size", 13).attr("fill", "#000");
    lab.append("tspan").attr("font-style", "italic").text("R");
    lab.append("tspan").text(" = " + dR[i] + ", ");
    lab.append("tspan").attr("font-style", "italic").text("p");
    lab.append("tspan").text(" = " + dP[i]);

    g.append("rect").attr("x", x0).attr("y", y0).attr("width", x1 - x0).attr("height", y1 - y0)
        .attr("fill", "none").attr("stroke", "#333").attr("stroke-width", 1);
    g.append("rect").attr("x", x0).attr("y", y0 - 20).attr("width", x1 - x0).attr("height", 20)
        .attr("fill", "#D9D9D9").attr("stroke", "#333").attr("stroke-width", 1);
    g.append("text").attr("x", (x0 + x1) / 2).attr("y", y0 - 6).attr("text-anchor", "middle")
        .attr("font-size", 10.5).attr("fill", "#1A1A1A").text(c.name);

    var fx = loc.format(c.xFmt), fy = loc.format(c.yFmt);
    g.append("g").selectAll("line").data(c.xTicks).join("line")
        .attr("x1", x).attr("x2", x).attr("y1", y1).attr("y2", y1 + 3)
        .attr("stroke", "#333").attr("stroke-width", 0.8);
    g.append("g").selectAll("line").data(c.yTicks).join("line")
        .attr("y1", y).attr("y2", y).attr("x1", x0 - 3).attr("x2", x0)
        .attr("stroke", "#333").attr("stroke-width", 0.8);
    g.append("g").selectAll("text").data(c.xTicks).join("text")
        .attr("x", x).attr("y", y1 + 14).attr("text-anchor", "middle")
        .attr("font-size", 10.5).attr("fill", "#4D4D4D").text(fx);
    g.append("g").selectAll("text").data(c.yTicks).join("text")
        .attr("x", x0 - 5).attr("y", function(d) { return y(d) + 4; }).attr("text-anchor", "end")
        .attr("font-size", 10.5).attr("fill", "#4D4D4D").text(fy);
}
sectionD.forEach(bwFacet);

svg.append("text").attr("transform", "translate(216,1353) rotate(-90)")
    .attr("text-anchor", "middle").attr("font-size", 13).text("Single-cell");
svg.append("text").attr("x", 515).attr("y", 1644).attr("text-anchor", "middle")
    .attr("font-size", 13).text("Methylation");
</script>
</body>
</html>
